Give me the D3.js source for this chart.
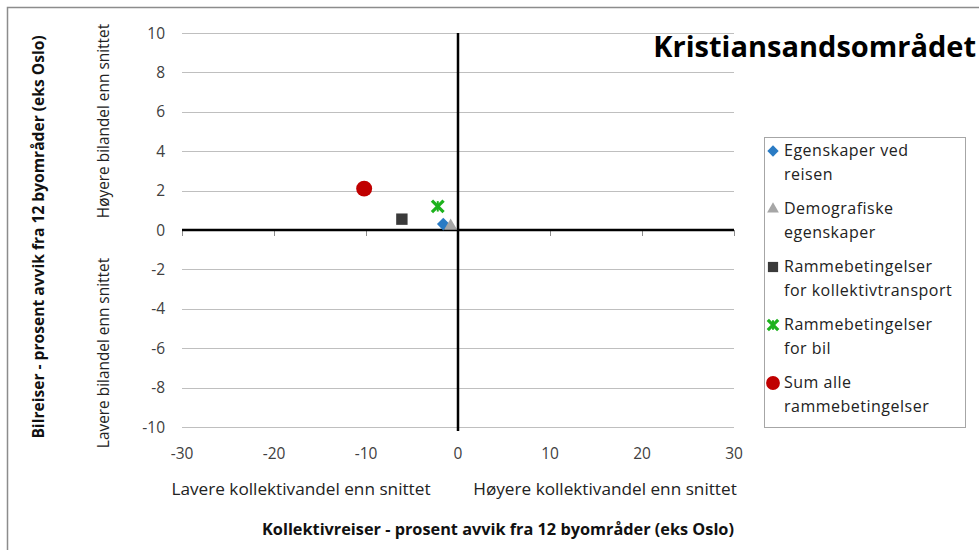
<!DOCTYPE html>
<html>
<head>
<meta charset="utf-8">
<script src="https://cdn.jsdelivr.net/npm/d3@7"></script>
<style>
body { margin: 0; background: #fff; }
text { font-family: "Open Sans", Lato, sans-serif; }
</style>
</head>
<body>
<svg id="chart" width="979" height="550"></svg>
<script>
const seriesNames = ["Egenskaper ved reisen", "Demografiske egenskaper", "Rammebetingelser for kollektivtransport", "Rammebetingelser for bil", "Sum alle rammebetingelser"];
const legendLines = [["Egenskaper ved", "reisen"], ["Demografiske", "egenskaper"], ["Rammebetingelser", "for kollektivtransport"], ["Rammebetingelser", "for bil"], ["Sum alle", "rammebetingelser"]];
const xValues = [-1.6, -0.8, -6.1, -2.2, -10.2];
const yValues = [0.3, 0.2, 0.55, 1.2, 2.1];
const symbols = ["diamond", "triangle", "square", "cross", "circle"];
const colors = ["#2A7BC4", "#A6A6A6", "#3A3A3A", "#1DB21D", "#C00000"];
const xTicks = [-30, -20, -10, 0, 10, 20, 30];
const yTicks = [-10, -8, -6, -4, -2, 0, 2, 4, 6, 8, 10];
const title = "Kristiansandsområdet";
const xTitle = "Kollektivreiser - prosent avvik fra 12 byområder (eks Oslo)";
const yTitle = "Bilreiser - prosent avvik fra 12 byområder (eks Oslo)";
const xLow = "Lavere kollektivandel enn snittet", xHigh = "Høyere kollektivandel enn snittet";
const yLow = "Lavere bilandel enn snittet", yHigh = "Høyere bilandel enn snittet";

const svg = d3.select("#chart");
const x = d3.scaleLinear().domain([-30, 30]).range([182, 734]);
const y = d3.scaleLinear().domain([-10, 10]).range([427, 33]);

// outer frame
svg.append("rect").attr("x", 7.5).attr("y", 7.5).attr("width", 1000).attr("height", 1000)
  .attr("fill", "none").attr("stroke", "#8c8c8c").attr("stroke-width", 1.5);

// gridlines
svg.append("g").selectAll("line").data(yTicks).join("line")
  .attr("x1", x(-30)).attr("x2", x(30))
  .attr("y1", d => Math.round(y(d)) + 0.5).attr("y2", d => Math.round(y(d)) + 0.5)
  .attr("stroke", "#bfbfbf").attr("stroke-width", 1);

// x tick marks below horizontal axis
svg.append("g").selectAll("line").data(xTicks).join("line")
  .attr("x1", d => Math.round(x(d)) + 0.5).attr("x2", d => Math.round(x(d)) + 0.5)
  .attr("y1", y(0)).attr("y2", y(0) + 6)
  .attr("stroke", "#8c8c8c").attr("stroke-width", 1);

// axes lines
svg.append("line").attr("x1", x(-30)).attr("x2", x(30)).attr("y1", y(0)).attr("y2", y(0))
  .attr("stroke", "#000").attr("stroke-width", 2.5);
svg.append("line").attr("x1", x(0)).attr("x2", x(0)).attr("y1", y(10)).attr("y2", y(-10) + 4)
  .attr("stroke", "#000").attr("stroke-width", 2.5);

// tick labels
svg.append("g").selectAll("text").data(yTicks).join("text")
  .attr("x", 165).attr("y", d => y(d) + 5.5).attr("text-anchor", "end")
  .attr("font-size", 15.5).attr("fill", "#404040").text(d => d);
svg.append("g").selectAll("text").data(xTicks).join("text")
  .attr("x", d => x(d)).attr("y", 459).attr("text-anchor", "middle")
  .attr("font-size", 15.5).attr("fill", "#404040").text(d => d);

// axis annotations
svg.append("text").attr("x", 301).attr("y", 495).attr("text-anchor", "middle").attr("font-size", 17.2).attr("fill", "#222").text(xLow);
svg.append("text").attr("x", 605).attr("y", 495).attr("text-anchor", "middle").attr("font-size", 17.2).attr("fill", "#222").text(xHigh);
svg.append("text").attr("x", 498).attr("y", 535).attr("text-anchor", "middle").attr("font-size", 16.3).attr("font-weight", "bold").attr("fill", "#111").text(xTitle);
svg.append("text").attr("transform", "translate(44,237) rotate(-90)").attr("text-anchor", "middle").attr("font-size", 15.6).attr("font-weight", "bold").attr("fill", "#111").text(yTitle);
svg.append("text").attr("transform", "translate(109,121) rotate(-90)").attr("text-anchor", "middle").attr("font-size", 15.4).attr("fill", "#222").text(yHigh);
svg.append("text").attr("transform", "translate(109,353) rotate(-90)").attr("text-anchor", "middle").attr("font-size", 15.4).attr("fill", "#222").text(yLow);

// title
svg.append("text").attr("x", 976).attr("y", 57).attr("text-anchor", "end").attr("font-size", 29).attr("font-weight", "bold").attr("fill", "#000").text(title);

const symMap = { diamond: d3.symbolSquare, triangle: d3.symbolTriangle, square: d3.symbolSquare, cross: d3.symbolX, circle: d3.symbolCircle };
const symSize = { diamond: 80, triangle: 75, square: 130, cross: 90, circle: 200 };
function drawSym(g, s, c, cx, cy, scale) {
  const path = d3.symbol().type(symMap[s]).size(symSize[s] * scale)();
  const rot = s === "diamond" ? " rotate(45)" : "";
  const p = g.append("path").attr("d", path).attr("transform", `translate(${cx},${cy})${rot}`);
  if (s === "cross") {
    p.attr("fill", "none").attr("stroke", c).attr("stroke-width", 3.2);
    const h = Math.sqrt(symSize[s] * scale) * 0.55;
    g.append("line").attr("x1", cx).attr("x2", cx).attr("y1", cy - h).attr("y2", cy + h)
      .attr("stroke", c).attr("stroke-width", 2);
  } else p.attr("fill", c);
}

// data points
const pts = svg.append("g");
xValues.forEach((v, i) => drawSym(pts, symbols[i], colors[i], x(v), y(yValues[i]), 1));

// legend
const lg = svg.append("g");
lg.append("rect").attr("x", 764.5).attr("y", 137.5).attr("width", 201).attr("height", 290)
  .attr("fill", "#fff").attr("stroke", "#a6a6a6").attr("stroke-width", 1);
seriesNames.forEach((n, i) => {
  const top = 156 + i * 58;
  drawSym(lg, symbols[i], colors[i], 773, top - 5, i === 4 ? 0.75 : 0.8);
  legendLines[i].forEach((t, j) => {
    lg.append("text").attr("x", 784).attr("y", top + j * 23.5).attr("font-size", 16)
      .attr("letter-spacing", 0.5).attr("fill", "#222").text(t);
  });
});
</script>
</body>
</html>
